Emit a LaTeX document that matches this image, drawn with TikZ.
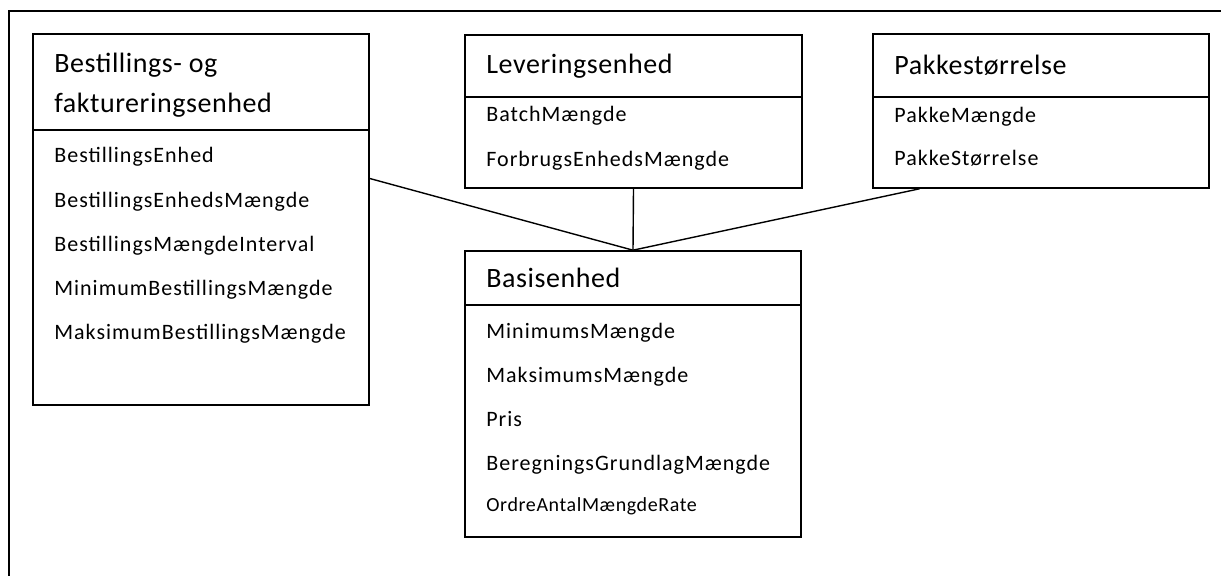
\documentclass[tikz,border=0pt]{standalone}
\usepackage{fontspec}
\setmainfont{Carlito}
\newfontfamily\headfont[LetterSpace=2]{Carlito}
\newfontfamily\attrfont[LetterSpace=4.5]{Carlito}
\newfontfamily\rarefont[LetterSpace=3]{Carlito}
\usetikzlibrary{fit,calc}

\tikzset{
  box/.style={draw, line width=0.8pt, inner sep=0pt},
  head/.style={anchor=base west, inner sep=0pt, font=\headfont\fontsize{14}{17}\selectfont},
  attr/.style={anchor=base west, inner sep=0pt, font=\attrfont\fontsize{11}{13}\selectfont},
  link/.style={line width=0.7pt},
}

\begin{document}
\begin{tikzpicture}[x=0.5pt, y=-0.5pt]
            \useasboundingbox (0,0) rectangle (1221,576);
            \draw[line width=1.1pt] (9,576) -- (9,11) -- (1221,11); % frame

            \node[box, fit={(33,34) (369,405)}] (bestil) {};
            \draw[line width=0.8pt] (33,130) -- (369,130);
            \node[head] (bestilHa) at (54,73) {Bestillings- og};
            \node[head] (bestilHb) at (54,113) {faktureringsenhed};
            \node[attr] (bestilA) at (54,163) {BestillingsEnhed};
            \node[attr] (bestilB) at (54,208) {BestillingsEnhedsMængde};
            \node[attr] (bestilC) at (54,252) {BestillingsMængdeInterval};
            \node[attr] (bestilD) at (54,296) {MinimumBestillingsMængde};
            \node[attr] (bestilE) at (54,340) {MaksimumBestillingsMængde};

            \node[box, fit={(465,35) (802,188)}] (lever) {};
            \draw[line width=0.8pt] (465,97) -- (802,97);
            \node[head] (leverH) at (486,74) {Leveringsenhed};
            \node[attr] (leverA) at (486,122) {BatchMængde};
            \node[attr] (leverB) at (486,167) {ForbrugsEnhedsMængde};

            \node[box, fit={(873,34) (1209,188)}] (pakke) {};
            \draw[line width=0.8pt] (873,97) -- (1209,97);
            \node[head] (pakkeH) at (894,75) {Pakkestørrelse};
            \node[attr] (pakkeA) at (894,123) {PakkeMængde};
            \node[attr] (pakkeB) at (894,166) {PakkeStørrelse};

            \node[box, fit={(465,251) (801,537)}] (basis) {};
            \draw[line width=0.8pt] (465,305) -- (801,305);
            \node[head] (basisH) at (486,288) {Basisenhed};
            \node[attr] (basisA) at (486,339) {MinimumsMængde};
            \node[attr] (basisB) at (486,383) {MaksimumsMængde};
            \node[attr] (basisC) at (486,427) {Pris};
            \node[attr] (basisD) at (486,471) {BeregningsGrundlagMængde};
            \node[attr, font=\rarefont\fontsize{10}{12}\selectfont] (basisE) at (486,512) {OrdreAntalMængdeRate};

            \draw[link] ($(bestil.north east)!0.39!(bestil.south east)$) -- (basis.north); % bestil-basis
            \draw[link] (lever.south) -- (basis.north); % lever-basis
            \draw[link] ($(pakke.south west)!0.14!(pakke.south east)$) -- (basis.north); % pakke-basis
        \end{tikzpicture}
\end{document}
